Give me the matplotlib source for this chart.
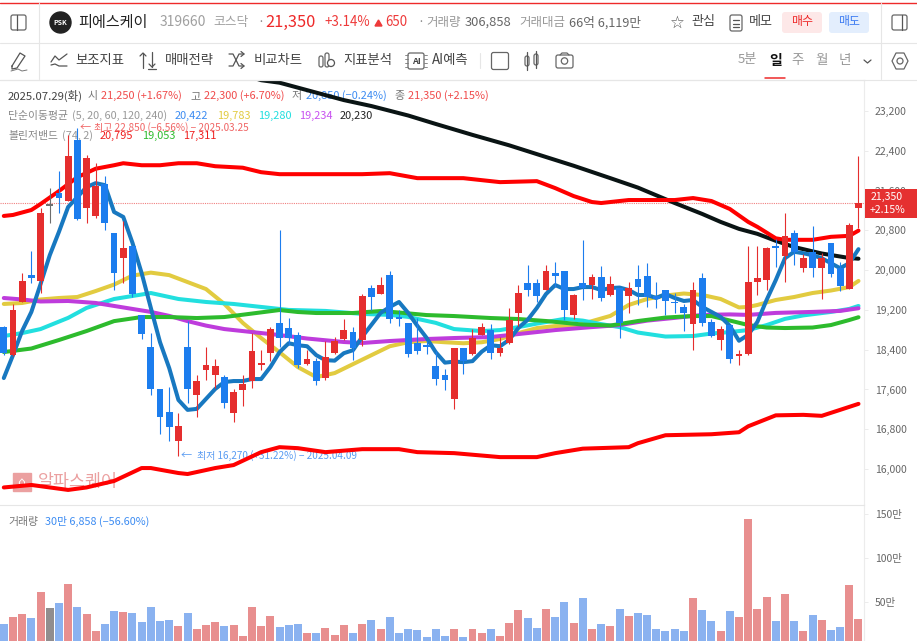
import matplotlib
matplotlib.use("Agg")
import matplotlib.pyplot as plt
from matplotlib.patches import FancyBboxPatch, Circle, Rectangle, Polygon

plt.rcParams['font.family'] = ['Noto Sans CJK KR', 'DejaVu Sans']

# ---------- data ----------
opens = [18860,18290,19360,19900,19790,21290,21550,21400,22620,21240,
         21090,21730,20750,20240,20490,19100,18460,17600,17140,16570,
         18460,17490,17990,17890,17850,17130,17580,17770,18090,18340,
         18940,18840,18700,18110,18170,17840,18330,18610,18760,18600,
         19650,19530,19900,19040,18930,18530,18480,18080,17900,17400,
         18430,18310,18700,18800,18340,18530,19140,19750,19740,19610,
         19950,19980,19100,19750,19700,19870,19500,19650,19480,19830,
         19880,19480,19600,19360,19250,18920,19840,18950,18600,18900,
         18270,18310,19760,19800,20490,20290,20740,20050,20370,20040,
         20540,20040,19630,21250]
closes = [18330,19200,19790,19850,21150,21290,21460,22300,21030,22260,
          21700,20950,19950,20450,19520,18720,17600,17040,16840,16870,
          17600,17770,18090,18070,17330,17540,17720,18370,18130,18820,
          18640,18640,18090,18210,17780,18260,18580,18790,18430,19480,
          19450,19700,19010,19020,18310,18380,18460,17820,17790,18430,
          18180,18630,18860,18330,18430,19000,19550,19610,19490,19980,
          19890,19200,19510,19640,19870,19430,19720,18940,19640,19670,
          19470,19410,19370,19330,19140,19610,18940,18680,18820,18220,
          18310,19760,19840,20440,20440,20690,20370,20240,20050,20250,
          19920,19680,20900,21350]
highs = [18880,19320,19950,20390,21250,21650,21990,22720,22850,22320,
         22150,21890,20750,20990,20490,19100,18740,17600,17650,17130,
         18980,17890,18450,18210,17890,17600,17890,18740,18390,18860,
         20810,19040,18760,18390,18230,18580,18650,19020,18850,19520,
         19700,19870,19980,19200,18940,19040,18580,18380,18010,18430,
         18430,18820,18930,18920,18660,19230,19700,20100,19820,20100,
         20160,19980,19520,20610,19920,20090,19880,19650,19760,20100,
         20150,19760,19610,19550,19320,19760,19940,19010,18880,18900,
         18390,20490,20490,20470,20620,21140,20810,20320,20890,20340,
         20540,20170,20950,22300]
lows = [18290,18270,19350,19740,19540,20950,21150,21400,21000,20950,
        21050,20810,19610,19750,19470,18620,17490,16700,16570,16270,
        17330,17050,17790,17620,17230,16950,17270,17630,17990,18180,
        18460,18490,18030,18100,17690,17800,18320,18600,18190,18470,
        19200,19520,18940,18880,18260,18310,18310,17690,17580,17200,
        17910,18300,18690,18210,18270,18520,18880,19480,19350,19600,
        19670,19000,19010,19400,19410,19380,19480,18630,19130,19300,
        19250,19230,19100,19130,18780,18390,18880,18650,18390,18140,
        18090,18290,19500,19600,20070,19760,20100,19970,19860,19410,
        19870,19590,19620,20850]
volumes = [24.6,33.3,36,31.4,61,42.8,48.5,70,44,36,
           17,25.4,39.8,38.3,37.5,27.3,44.7,28.4,29.5,22.4,
           37.5,19.3,23.5,27.3,23.2,23.5,11,44.7,22.4,33.7,
           21.2,23.5,25.4,14.4,15.1,20.4,12.2,23.5,14.4,25.4,
           29.5,19.3,32.6,15.1,19.3,18.2,10.2,19.3,11.4,19.3,
           10.2,19.3,14.4,19.3,11.4,26.5,40.5,31.4,20.4,41.7,
           33.3,50,26.5,54.9,19.3,24.6,22.4,41.7,34.5,37.5,
           35.6,19.3,17,19.3,17,54.9,40.5,28.4,17,39.8,
           32.6,144.7,41.7,56,28.4,59,28.4,17,35.6,29.5,
           18.2,21.2,69.3,30.69]

ma5 = [17830,18290,18780,19160,19720,20300,20770,21270,21470,21670,
       21750,21710,21170,21070,20550,19940,19240,18550,18030,17390,
       17190,17210,17410,17610,17750,17770,17770,17810,17810,18050,
       18350,18530,18490,18470,18290,18190,18180,18330,18390,18660,
       18900,19140,19260,19360,19140,18880,18640,18350,18140,18160,
       18150,18170,18360,18490,18470,18600,18840,19000,19240,19520,
       19700,19620,19620,19660,19660,19600,19640,19650,19600,19500,
       19500,19440,19520,19440,19380,19400,19260,19160,19060,18880,
       18580,18700,18960,19400,19800,20240,20370,20340,20300,20240,
       20140,20040,20140,20422]

ma20_idx = [0,2,4,6,8,10,12,14,16,18,20,22,24,26,28,30,32,34,36,38,40,42,44,46,48,50,52,54,56,58,
            60,62,64,66,68,70,72,74,76,78,80,81,82,84,86,88,90,92,93]
ma20 = [19320,19340,19410,19440,19460,19580,19710,19890,19950,19900,
        19760,19620,19320,18940,18635,18350,18050,17850,17930,18110,
        18290,18470,18550,18575,18550,18530,18550,18615,18735,18835,
        18875,18865,18975,19080,19300,19420,19490,19530,19500,19420,
        19250,19260,19300,19400,19460,19540,19590,19660,19783]

ma60_idx = [0,2,4,7,9,12,14,16,19,22,25,28,31,35,39,42,44,47,49,52,54,56,58,61,63,65,67,69,72,75,
            77,79,81,83,85,87,90,92,93]
ma60 = [18675,18735,18815,19040,19240,19420,19480,19540,19420,19360,
        19320,19260,19200,19180,19120,19100,19060,18940,18815,18775,
        18795,18855,18925,19020,18985,18915,18855,18745,18665,18675,
        18725,18755,18795,18895,19020,19090,19160,19220,19280]

ma120_idx = [0,2,4,7,10,13,16,18,20,22,24,27,30,33,37,39,42,46,49,53,56,60,64,67,70,73,76,79,81,84,88,91,93]
ma120 = [19440,19410,19370,19380,19340,19250,19160,19080,18975,18885,
         18815,18755,18695,18625,18555,18535,18575,18615,18635,18655,
         18715,18795,18855,18895,18985,19040,19100,19110,19100,19140,
         19160,19180,19234]

ma240_idx = [26,28,30,33,37,40,44,47,51,55,59,62,66,69,73,76,78,80,82,84,86,89,92,93]
ma240 = [23940,23820,23770,23620,23420,23300,23110,22940,22720,22510,22275,22100,
         21850,21660,21350,21130,20970,20830,20730,20590,20465,20335,20244,20230]

bb_mid_idx = [0,3,6,9,12,15,18,21,24,27,30,32,34,38,41,43,46,49,53,56,59,63,66,69,72,75,77,79,81,83,85,88,90,92,93]
bb_mid = [18353,18424,18595,18775,18975,19057,19057,19037,19057,19127,
          19198,19158,19138,19138,19178,19148,19097,19077,19037,19017,
          18977,18906,18886,18977,19047,19077,19077,18987,18896,18846,
          18836,18846,18896,18997,19053]

bb_up_idx = [0,1,3,4,6,8,10,12,13,15,17,19,21,23,26,28,30,34,39,42,45,50,54,58,60,62,64,65,68,73,75,77,79,81,82,84,85,88,90,92,93]
bb_up = [21090,21110,21210,21330,21590,21870,22040,22110,22150,22110,
         22110,22150,22150,22090,22060,21970,21930,21930,21930,21950,
         21850,21850,21770,21790,21650,21490,21370,21350,21410,21410,
         21450,21390,21230,20970,20870,20640,20610,20610,20670,20690,20795]

bb_lo_idx = [0,3,7,9,12,15,16,19,20,23,25,28,30,32,35,39,43,45,49,54,58,60,63,68,69,72,77,80,81,84,87,89,91,93]
bb_lo = [15630,15680,15580,15630,15760,16020,16020,15920,15900,16020,
         16080,16340,16440,16420,16340,16400,16400,16340,16320,16240,
         16240,16320,16410,16440,16520,16680,16700,16740,16860,17080,
         17090,17070,17190,17311]

flat_idx = [5]
last_price = 21350
price_ticks = [23200,22400,21600,20800,20000,19200,18400,17600,16800,16000]
vol_ticks = [150,100,50]

RED, BLUE, GRAY = '#E52E2E', '#1C7DEE', '#6E6E6E'
VRED, VBLUE, VGRAY = '#E88F8F', '#8AB2F0', '#918D8E'

# ---------- figure ----------
W, H = 917, 641
fig = plt.figure(figsize=(W/100, H/100), dpi=100, facecolor='white')
def axpx(x0, y0, x1, y1, **kw):
    return fig.add_axes([x0/W, 1-y1/H, (x1-x0)/W, (y1-y0)/H], **kw)

ax = axpx(0, 80, 864, 505)
axv = axpx(0, 505, 864, 641)
ov = fig.add_axes([0, 0, 1, 1], facecolor='none', zorder=10)
ov.set_xlim(0, W); ov.set_ylim(H, 0); ov.axis('off')

xlim = (-0.4135, 93.6)
ax.set_xlim(*xlim); axv.set_xlim(*xlim)
ax.set_ylim(15277, 23824)
axv.set_ylim(5.68, 160.2)

n = len(opens)
xs = list(range(n))

LW = 2.9
for idx, vals, c, z in [(ma20_idx, ma20, '#E2CB40', 2), (ma60_idx, ma60, '#22DFDF', 2.1),
                        (ma120_idx, ma120, '#BE3CDC', 2.2), (ma240_idx, ma240, '#0A1414', 2.3),
                        (bb_mid_idx, bb_mid, '#2DBB2D', 2.4), (bb_up_idx, bb_up, '#FF0000', 2.5),
                        (bb_lo_idx, bb_lo, '#FF0000', 2.5), (xs, ma5, '#1878C0', 2.6)]:
    ax.plot(idx, vals, color=c, lw=LW, zorder=z, solid_joinstyle='round', solid_capstyle='round')

col = [GRAY if i in flat_idx else (RED if closes[i] >= opens[i] else BLUE) for i in xs]
vcol = [VGRAY if i in flat_idx else (VRED if closes[i] >= opens[i] else VBLUE) for i in xs]
ax.vlines(xs, lows, highs, colors=col, lw=0.8, zorder=3)
bottoms = [min(o, c) for o, c in zip(opens, closes)]
heights = [max(abs(o-c), 35) for o, c in zip(opens, closes)]
ax.bar(xs, heights, bottom=bottoms, width=0.74, color=col, linewidth=0, zorder=4)
axv.bar(xs, volumes, width=0.87, color=vcol, linewidth=0, zorder=3)

ax.axhline(last_price, color='#F08080', lw=0.8, ls=(0, (1, 1)), zorder=1.5)

for a, ticks in ((ax, price_ticks), (axv, vol_ticks)):
    for s in ('left', 'bottom'):
        a.spines[s].set_visible(False)
    a.spines['right'].set_color('#ECECEC')
    a.spines['top'].set_color('#E6E6E6' if a is axv else '#E4E4E4')
    a.set_xticks([])
    a.yaxis.tick_right()
    a.set_yticks(ticks)
    a.tick_params(axis='y', length=3, width=0.7, color='#ECECEC', pad=4.8, labelsize=7.5, labelcolor='#666666')
    a.patch.set_alpha(0)
ax.set_yticklabels([f'{t:,}' for t in price_ticks])
axv.set_yticklabels([f'{t}만' for t in vol_ticks])

# ---------- text below the marks ----------
def LT(x, y, s, c='#777777', size=7.9, **kw):
    ax.text(x, y, s, color=c, fontsize=size, va='center', ha='left', transform=ov.transData,
            zorder=1, clip_on=False, **kw)

TR, TB = '#F04A4A', '#3D8CF2'
LT(8, 96, '2025.07.29(화)', '#444444', 8.2)
LT(88, 96, '시'); LT(101, 96, '21,250 (+1.67%)', TR)
LT(190, 96, '고'); LT(203.5, 96, '22,300 (+6.70%)', TR)
LT(292, 96, '저'); LT(305.5, 96, '20,850 (−0.24%)', TB)
LT(394, 96, '종'); LT(408, 96, '21,350 (+2.15%)', TR)
LT(8, 116, '단순이동평균', '#888888', 7.8); LT(72, 116, '(5, 20, 60, 120, 240)', '#999999', 7.8)
LT(174.7, 116, '20,422', TB); LT(216.7, 116, '19,783', '#E2CB40'); LT(257.7, 116, '19,280', '#22DFDF')
LT(299, 116, '19,234', '#C850F0'); LT(340, 116, '20,230', '#222222')
LT(8, 136, '볼린저밴드', '#888888', 7.8); LT(62, 136, '(74, 2)', '#999999', 7.8)
LT(100, 136, '20,795', '#F01E1E'); LT(141.7, 136, '19,053', '#2DBB2D'); LT(183.3, 136, '17,311', '#F01E1E')
LT(80, 128, '←', '#F06464', 8); LT(94, 128, '최고 22,850 (−6.56%) − 2025.03.25', '#F06464', 7.2)
LT(181, 456, '←', '#5A9CF2', 8); LT(197, 456, '최저 16,270 (+31.22%) − 2025.04.09', '#5A9CF2', 7.2)
LT(38, 482, '알파스퀘어', '#EBA0A0', 12.5)
ax.add_patch(Rectangle((13, 473), 18, 18, color='#EBA0A0', transform=ov.transData, zorder=1, clip_on=False))
LT(17, 482, '⌂', 'white', 9)
axv.text(8, 521.5, '거래량', color='#777777', fontsize=7.8, va='center', transform=ov.transData, clip_on=False)
axv.text(45, 521.5, '30만 6,858 (−56.60%)', color='#3D8CF2', fontsize=7.8, va='center', transform=ov.transData, clip_on=False)

# ---------- header and chrome ----------
def T(x, y, s, c='#777777', size=9, ha='left', **kw):
    ov.text(x, y, s, color=c, fontsize=size, va='center', ha=ha, **kw)
def L(px, py, c='#555555', lw=0.9):
    ov.plot(px, py, color=c, lw=lw, solid_capstyle='round', solid_joinstyle='round')
def RR(x, y, w, h, ec='#666666', fc='none', lw=0.9, r=2):
    ov.add_patch(FancyBboxPatch((x+r, y+r), w-2*r, h-2*r, boxstyle=f'round,pad={r},rounding_size={r}',
                                ec=ec, fc=fc, lw=lw))

L([0, 917], [2.5, 2.5], '#EE2A2A', 1.0)
L([0, 917], [42.5, 42.5], '#E6E6E6', 0.8)
L([0, 917], [79.5, 79.5], '#E6E6E6', 0.8)
L([38.5, 38.5], [3, 79], '#E6E6E6', 0.8)
L([880.5, 880.5], [3, 79], '#E6E6E6', 0.8)

RR(11, 15, 15, 15); L([17, 17], [15, 30])
ov.add_patch(Circle((60.5, 22.5), 10.5, color='#222222'))
T(60.5, 22.5, 'PSK', 'white', 5, ha='center', weight='bold')
T(78, 22, '피에스케이', '#222222', 10.9, weight='medium')
T(160, 22.5, '319660', '#A0A0A0', 10)
T(213, 22.5, '코스닥', '#A0A0A0', 9.2)
T(257, 22, '·', '#888888', 9)
T(265.5, 22, '21,350', '#EE2A2A', 11.8, weight='medium')
T(324, 22.5, '+3.14%', '#EE3A3A', 9.6)
ov.add_patch(Polygon([[375, 26], [382, 26], [378.5, 20]], color='#EE3A3A'))
T(385, 22.5, '650', '#EE3A3A', 9.6)
T(417, 22, '·', '#888888', 9)
T(426, 22.5, '거래량', '#999999', 9)
T(464.5, 22.5, '306,858', '#666666', 9.3)
T(519, 22.5, '거래대금', '#999999', 9)
T(569, 22.5, '66억 6,119만', '#666666', 9.1)
T(677, 23, '☆', '#555555', 12, ha='center', family=['DejaVu Sans'])
T(691.5, 21.5, '관심', '#444444', 9.4, weight='medium')
RR(730, 15, 12, 16); L([733, 739], [20, 20]); L([733, 739], [24, 24]); L([733, 739], [27, 27])
T(749, 21.5, '메모', '#444444', 9.4, weight='medium')
RR(782, 12, 40, 21, ec='none', fc='#FDE8E8', r=3)
T(802, 22, '매수', '#EE2A2A', 8.6, ha='center', weight='medium')
RR(829, 12, 40, 21, ec='none', fc='#E3EEFD', r=3)
T(849, 22, '매도', '#3D7CF2', 8.6, ha='center', weight='medium')
RR(892, 15, 15, 15); L([902, 902], [15, 30])

# toolbar
TBS = 9.6
L([12, 20, 25, 17, 12, 12], [66, 53, 56, 68, 69, 66])
L([11, 18, 22, 27], [71, 69, 71, 70], '#777777', 0.7)
L([51, 55, 59, 63, 67], [62, 56, 60, 57, 54]); L([51, 55, 59, 67], [65, 64, 66, 66])
T(75, 60, '보조지표', '#444444', TBS, weight='medium')
L([143, 143], [53, 68]); L([140, 143, 146], [56, 53, 56])
L([152, 152], [52, 67]); L([149, 152, 155], [64, 67, 64]); L([148, 156], [69, 69])
T(164.7, 60, '매매전략', '#444444', TBS, weight='medium')
L([229, 233, 239, 244], [54, 54, 66, 66]); L([229, 233, 239, 244], [66, 66, 54, 54])
L([241, 244, 241], [51.5, 54, 56.5]); L([241, 244, 241], [63.5, 66, 68.5])
T(253.7, 60, '비교차트', '#444444', TBS, weight='medium')
RR(319, 56, 4, 11); RR(325, 53, 4, 14); ov.add_patch(Circle((331, 63), 3.5, ec='#555555', fc='white', lw=0.9))
T(343, 60, '지표분석', '#444444', TBS, weight='medium')
RR(408, 53, 16, 16); T(416, 61, 'AI', '#444444', 6.5, ha='center', weight='bold')
for yy in (56, 60, 64, 68):
    L([405, 408], [yy-1, yy-1], '#777777', 0.6); L([424, 427], [yy-1, yy-1], '#777777', 0.6)
T(432, 60, 'AI예측', '#444444', TBS, weight='medium')
L([479.5, 479.5], [53, 68], '#E6E6E6', 0.8)
RR(491.5, 52.5, 17, 17, ec='#666666')
RR(525, 56, 4, 10); L([527, 527], [52, 70]); RR(534, 54, 4, 11); L([536, 536], [51, 68])
RR(556, 55, 17, 13); ov.add_patch(Circle((564.5, 61), 3.2, ec='#666666', fc='none', lw=0.9))
L([560, 562, 567, 569], [55, 53, 53, 55], '#666666')
T(738, 60, '5분', '#999999', 9.5)
T(775.5, 61, '일', '#111111', 10, ha='center', weight='bold')
L([765, 785], [78, 78], '#EE2A2A', 1.1)
T(798, 60, '주', '#999999', 9.8, ha='center')
T(822, 60, '월', '#999999', 9.8, ha='center')
T(845, 60, '년', '#999999', 9.8, ha='center')
L([864, 867.5, 871], [60, 63, 60], '#555555', 0.9)
ov.add_patch(Polygon([[896, 53], [904, 53], [908, 61], [904, 69], [896, 69], [892, 61]],
                     ec='#666666', fc='none', lw=0.9, joinstyle='round'))
ov.add_patch(Circle((900, 61), 3, ec='#666666', fc='none', lw=0.9))

# price tag
ov.add_patch(Rectangle((865, 189), 52, 29, color='#E53030', lw=0))
T(871, 197, '21,350', 'white', 7.6, weight='medium')
T(870, 210, '+2.15%', 'white', 7.6, weight='medium')

fig.savefig('out.png', dpi=100, facecolor='white')
